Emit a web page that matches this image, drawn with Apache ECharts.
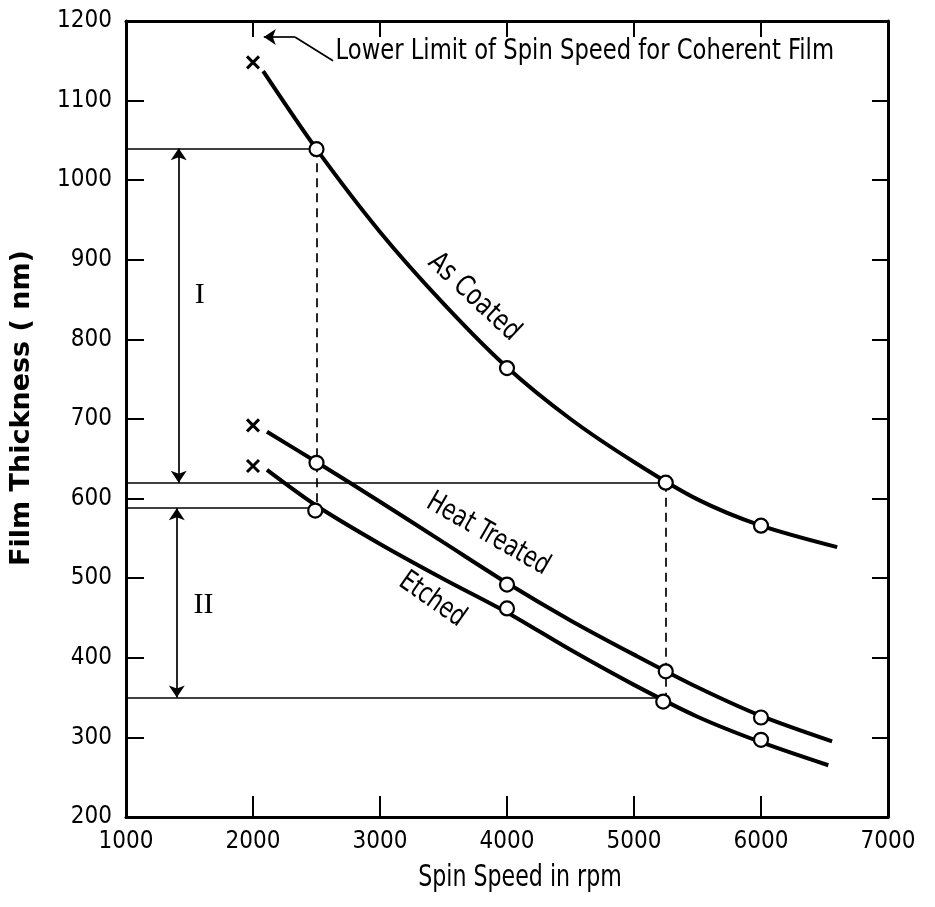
<!DOCTYPE html>
<html>
<head>
<meta charset="utf-8">
<script src="https://cdn.jsdelivr.net/npm/echarts@6/dist/echarts.min.js"></script>
<style>
  html, body { margin: 0; padding: 0; background: #fff; }
  #chart { width: 935px; height: 907px; }
</style>
</head>
<body>
<div id="chart"></div>
<script>
// spin speed (rpm) vs film thickness (nm)
var asCoatedCurve = [[2080, 1137], [2500, 1039], [3000, 935], [3500, 845], [4000, 765], [4500, 700], [5000, 646], [5500, 599], [6000, 566], [6600, 539]];
var heatCurve = [[2110, 684], [2500, 646], [3000, 596], [3500, 545], [4000, 494], [4500, 447], [5000, 404], [5500, 363], [6000, 327], [6560, 295]];
var etchedCurve = [[2110, 636], [2500, 591], [3000, 543], [3500, 499], [4000, 457], [4500, 410], [5000, 366], [5500, 326], [6000, 294], [6530, 265]];

var asCoatedPts = [[2500, 1039], [4000, 764], [5250, 620], [6000, 566]];
var heatPts = [[2500, 645], [4000, 492], [5250, 383], [6000, 325]];
var etchedPts = [[2490, 585], [4000, 462], [5230, 345], [6000, 297]];
var limitPts = [[2000, 1148], [2000, 692], [2000, 641]];

// guide lines
var hLines = [[1000, 2500, 1040], [1000, 5250, 620], [1000, 2490, 588], [1000, 5230, 350]];
var vDashed = [[2500, 1040, 585], [5250, 620, 345]];
var rangeArrows = [[1415, 1040, 620], [1400, 588, 350]];
var leader = [[2630, 1150], [2330, 1180], [2085, 1180]];

var textLabels = [
  { text: 'Lower Limit of Spin Speed for Coherent Film', at: [2650, 1162], rot: 0, align: 'left', font: 'narrow', size: 29, sx: 0.87 },
  { text: 'As Coated', at: [3740, 853], rot: -43, align: 'center', font: 'narrow', size: 29, sx: 0.86 },
  { text: 'Heat Treated', at: [3850, 555], rot: -30, align: 'center', font: 'narrow', size: 29, sx: 0.82 },
  { text: 'Etched', at: [3410, 473], rot: -35, align: 'center', font: 'narrow', size: 29, sx: 0.82 },
  { text: 'I', at: [1580, 855], rot: 0, align: 'center', font: 'serif', size: 30, sx: 1 },
  { text: 'II', at: [1610, 466], rot: 0, align: 'center', font: 'serif', size: 30, sx: 1 }
];

var NARROW = "'Liberation Sans Narrow', 'DejaVu Sans Condensed', sans-serif";
var SERIF = "'Liberation Serif', 'DejaVu Serif', serif";

var chart = echarts.init(document.getElementById('chart'));

var markData = [];
hLines.forEach(function (h) {
  markData.push([{ coord: [h[0], h[2]] }, { coord: [h[1], h[2]] }]);
});
vDashed.forEach(function (v) {
  markData.push([{ coord: [v[0], v[1]], lineStyle: { type: [9, 6], width: 1.7 } }, { coord: [v[0], v[2]] }]);
});
rangeArrows.forEach(function (a) {
  markData.push([{ coord: [a[0], a[1]], symbol: 'arrow' }, { coord: [a[0], a[2]], symbol: 'arrow' }]);
});
markData.push([{ coord: leader[0] }, { coord: leader[1] }]);
markData.push([{ coord: leader[1] }, { coord: leader[2], symbol: 'arrow' }]);

function curve(name, data) {
  return {
    name: name, type: 'line', data: data, smooth: 0.3, showSymbol: false, silent: true,
    lineStyle: { color: '#000', width: 4 }, z: 3
  };
}
function circles(data) {
  return {
    type: 'scatter', data: data, symbol: 'circle', symbolSize: 14, silent: true,
    itemStyle: { color: '#fff', borderColor: '#000', borderWidth: 2.2, opacity: 1 }, z: 5
  };
}
function plain(v) { return String(v); }

var option = {
  backgroundColor: '#fff',
  animation: false,
  grid: { left: 126, right: 47, top: 21, bottom: 90 },
  xAxis: [{
    type: 'value', min: 1000, max: 7000, interval: 1000,
    axisLine: { lineStyle: { color: '#000', width: 3 } },
    axisTick: { inside: true, length: 21, lineStyle: { color: '#000', width: 2 } },
    axisLabel: { fontFamily: NARROW, fontSize: 24, color: '#000', margin: 13, formatter: plain },
    splitLine: { show: false }
  }, {
    type: 'value', min: 1000, max: 7000, interval: 1000, position: 'top',
    axisLine: { show: true, lineStyle: { color: '#000', width: 3 } },
    axisTick: { show: true, inside: true, length: 16, lineStyle: { color: '#000', width: 2 } },
    axisLabel: { show: false }, splitLine: { show: false }
  }],
  yAxis: [{
    type: 'value', min: 200, max: 1200, interval: 100,
    axisLine: { show: true, lineStyle: { color: '#000', width: 3 } },
    axisTick: { show: true, inside: true, length: 18, lineStyle: { color: '#000', width: 2 } },
    axisLabel: { fontFamily: NARROW, fontSize: 24, color: '#000', margin: 14, formatter: plain },
    splitLine: { show: false }
  }, {
    type: 'value', min: 200, max: 1200, interval: 100, position: 'right',
    axisLine: { show: true, lineStyle: { color: '#000', width: 3 } },
    axisTick: { show: true, inside: true, length: 16, lineStyle: { color: '#000', width: 2 } },
    axisLabel: { show: false }, splitLine: { show: false }
  }],
  series: [
    {
      type: 'scatter', data: [], silent: true, z: 2,
      markLine: {
        silent: true, animation: false, symbol: 'none', symbolSize: 12,
        label: { show: false },
        lineStyle: { color: '#000', width: 1.7, type: 'solid', opacity: 1 },
        data: markData
      }
    },
    curve('As Coated', asCoatedCurve),
    curve('Heat Treated', heatCurve),
    curve('Etched', etchedCurve),
    circles(asCoatedPts),
    circles(heatPts),
    circles(etchedPts),
    {
      type: 'scatter', data: limitPts, silent: true, z: 5,
      symbol: 'path://M0,0L10,10M10,0L0,10', symbolSize: 12,
      itemStyle: { color: '#000', borderColor: '#000', borderWidth: 3, opacity: 1 }
    }
  ]
};
chart.setOption(option);

var graphics = textLabels.map(function (t) {
  var p = chart.convertToPixel({ gridIndex: 0 }, t.at);
  return {
    type: 'text', x: p[0], y: p[1], rotation: t.rot * Math.PI / 180, scaleX: t.sx, silent: true,
    style: {
      text: t.text, fill: '#000', align: t.align, verticalAlign: 'middle',
      fontFamily: t.font === 'serif' ? SERIF : NARROW, fontSize: t.size
    }
  };
});
// axis titles
graphics.push({
  type: 'text', x: 520, y: 878, scaleX: 0.82, silent: true,
  style: {
    text: 'Spin Speed in rpm', fill: '#000', align: 'center', verticalAlign: 'middle',
    fontFamily: NARROW, fontSize: 30
  }
});
graphics.push({
  type: 'text', x: 22, y: 408, rotation: Math.PI / 2, silent: true,
  style: {
    text: 'Film Thickness ( nm)', fill: '#000', align: 'center', verticalAlign: 'middle',
    fontFamily: "'DejaVu Sans', sans-serif", fontWeight: 'bold', fontSize: 27
  }
});
chart.setOption({ graphic: graphics });
</script>
</body>
</html>
